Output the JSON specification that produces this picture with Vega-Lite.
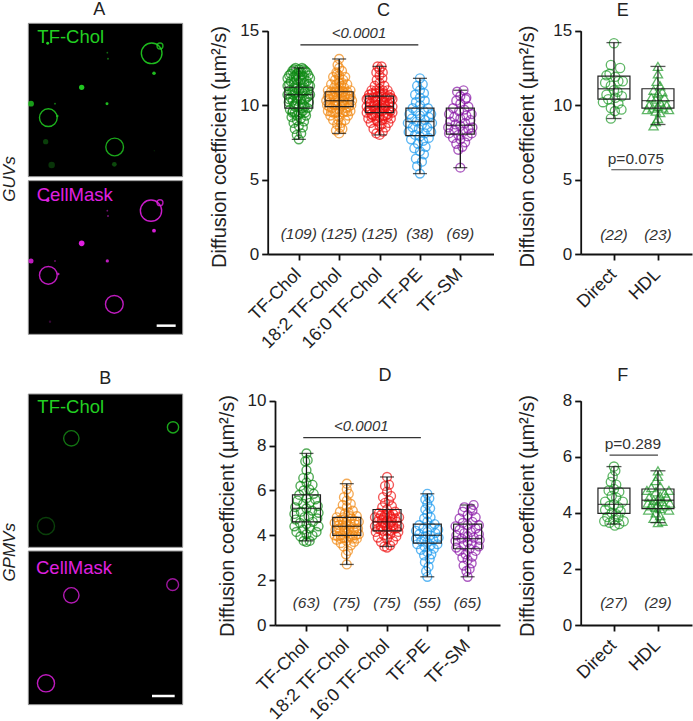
{"$schema":"https://vega.github.io/schema/vega-lite/v6.json","width":693,"height":721,"padding":0,"autosize":"none","background":"white",
"config":{"font":"Liberation Sans","view":{"stroke":null},"axis":{"grid":false,"domainColor":"#111","domainWidth":1.8,"tickColor":"#111","tickWidth":1.8,"tickSize":6,"labelFontSize":17,"labelColor":"#222","labelPadding":3,"labelOverlap":false,"labelFlush":false,"labelBound":false,"titleFontWeight":"normal","titleFontSize":20,"titleColor":"#222"},"axisX":{"labelAngle":-45,"labelAlign":"right","labelBaseline":"top","labelFontSize":18,"labelPadding":5,"labelOffset":-7}},
"datasets":{
"A":[{"part":"frame","x":85,"x2":548,"y":70,"y2":530},{"part":"frame","x":85,"x2":548,"y":542,"y2":1003},
{"part":"bar","x":470,"x2":527,"y":977},
{"part":"letter","x":298,"y":31,"label":"A"},{"part":"side","x":30,"y":537,"label":"GUVs"}],
"A_img":[{"ch":"TF-Chol","x":112,"y":112,"label":"TF-Chol"},{"ch":"CellMask","x":110,"y":586,"label":"CellMask"}],
"A_ring":[{"ch":"TF-Chol","x":455,"y":160,"d":70,"i":0.9},{"ch":"TF-Chol","x":480,"y":138,"d":20,"i":0.8},{"ch":"TF-Chol","x":145,"y":353,"d":60,"i":0.85},{"ch":"TF-Chol","x":344,"y":441,"d":60,"i":0.8},{"ch":"CellMask","x":453,"y":632,"d":72,"i":0.9},{"ch":"CellMask","x":480,"y":608,"d":20,"i":0.8},{"ch":"CellMask","x":145,"y":826,"d":60,"i":0.85},{"ch":"CellMask","x":343,"y":913,"d":60,"i":0.85}],
"A_dot":[{"ch":"TF-Chol","x":143,"y":130,"d":10,"i":1},{"ch":"TF-Chol","x":322,"y":158,"d":6,"i":0.5},{"ch":"TF-Chol","x":324,"y":176,"d":7,"i":0.5},{"ch":"TF-Chol","x":462,"y":220,"d":12,"i":0.9},{"ch":"TF-Chol","x":245,"y":262,"d":18,"i":0.95},{"ch":"TF-Chol","x":93,"y":311,"d":20,"i":0.75},{"ch":"TF-Chol","x":321,"y":311,"d":10,"i":0.9},{"ch":"TF-Chol","x":165,"y":311,"d":6,"i":0.6},{"ch":"TF-Chol","x":172,"y":348,"d":8,"i":0.8},{"ch":"TF-Chol","x":137,"y":425,"d":18,"i":0.3},{"ch":"TF-Chol","x":343,"y":493,"d":16,"i":0.35},{"ch":"TF-Chol","x":155,"y":495,"d":22,"i":0.25},{"ch":"TF-Chol","x":463,"y":452,"d":5,"i":0.15},{"ch":"CellMask","x":143,"y":601,"d":12,"i":1},{"ch":"CellMask","x":322,"y":632,"d":6,"i":0.5},{"ch":"CellMask","x":324,"y":648,"d":7,"i":0.5},{"ch":"CellMask","x":462,"y":692,"d":13,"i":0.95},{"ch":"CellMask","x":245,"y":730,"d":19,"i":1},{"ch":"CellMask","x":93,"y":783,"d":17,"i":0.85},{"ch":"CellMask","x":322,"y":783,"d":11,"i":0.85},{"ch":"CellMask","x":165,"y":783,"d":6,"i":0.5},{"ch":"CellMask","x":175,"y":822,"d":8,"i":0.8},{"ch":"CellMask","x":150,"y":965,"d":8,"i":0.25}],
"B":[{"part":"frame","x":85,"x2":548,"y":72,"y2":532},{"part":"frame","x":85,"x2":548,"y":543,"y2":1004},
{"part":"bar","x":456,"x2":524,"y":978},
{"part":"letter","x":316,"y":28,"label":"B"},{"part":"side","x":30,"y":547,"label":"GPMVs"}],
"B_img":[{"ch":"TF-Chol","x":112,"y":112,"label":"TF-Chol"},{"ch":"CellMask","x":108,"y":595,"label":"CellMask"}],
"B_ring":[{"ch":"TF-Chol","x":214,"y":205,"d":52,"i":0.55},{"ch":"TF-Chol","x":519,"y":172,"d":38,"i":0.8},{"ch":"TF-Chol","x":138,"y":468,"d":58,"i":0.3},{"ch":"CellMask","x":214,"y":676,"d":52,"i":0.8},{"ch":"CellMask","x":518,"y":644,"d":40,"i":0.7},{"ch":"CellMask","x":138,"y":940,"d":58,"i":0.85}],
"C":[{"g":"TF-Chol","x":1,"y":7.7},{"g":"TF-Chol","x":0.95,"y":8},{"g":"TF-Chol","x":1.06,"y":8.1},{"g":"TF-Chol","x":0.9,"y":8.4},{"g":"TF-Chol","x":1.1,"y":8.5},{"g":"TF-Chol","x":1,"y":8.6},{"g":"TF-Chol","x":0.87,"y":8.8},{"g":"TF-Chol","x":1.13,"y":8.9},{"g":"TF-Chol","x":0.95,"y":9},{"g":"TF-Chol","x":1.05,"y":9.1},{"g":"TF-Chol","x":0.82,"y":9.2},{"g":"TF-Chol","x":1.18,"y":9.3},{"g":"TF-Chol","x":1,"y":9.4},{"g":"TF-Chol","x":0.9,"y":9.5},{"g":"TF-Chol","x":1.1,"y":9.6},{"g":"TF-Chol","x":0.78,"y":9.7},{"g":"TF-Chol","x":1.22,"y":9.8},{"g":"TF-Chol","x":1,"y":9.9},{"g":"TF-Chol","x":0.88,"y":10},{"g":"TF-Chol","x":1.12,"y":10},{"g":"TF-Chol","x":0.75,"y":10.2},{"g":"TF-Chol","x":1.25,"y":10.2},{"g":"TF-Chol","x":0.95,"y":10.3},{"g":"TF-Chol","x":1.05,"y":10.4},{"g":"TF-Chol","x":0.8,"y":10.5},{"g":"TF-Chol","x":1.2,"y":10.5},{"g":"TF-Chol","x":1,"y":10.6},{"g":"TF-Chol","x":0.72,"y":10.7},{"g":"TF-Chol","x":1.28,"y":10.7},{"g":"TF-Chol","x":0.9,"y":10.8},{"g":"TF-Chol","x":1.1,"y":10.8},{"g":"TF-Chol","x":0.78,"y":11},{"g":"TF-Chol","x":1.22,"y":11},{"g":"TF-Chol","x":1,"y":11},{"g":"TF-Chol","x":0.88,"y":11.2},{"g":"TF-Chol","x":1.12,"y":11.2},{"g":"TF-Chol","x":0.72,"y":11.3},{"g":"TF-Chol","x":1.28,"y":11.3},{"g":"TF-Chol","x":0.95,"y":11.4},{"g":"TF-Chol","x":1.05,"y":11.5},{"g":"TF-Chol","x":0.8,"y":11.6},{"g":"TF-Chol","x":1.2,"y":11.6},{"g":"TF-Chol","x":1,"y":11.8},{"g":"TF-Chol","x":0.87,"y":11.9},{"g":"TF-Chol","x":1.13,"y":11.9},{"g":"TF-Chol","x":0.76,"y":12},{"g":"TF-Chol","x":1.24,"y":12},{"g":"TF-Chol","x":0.95,"y":12.1},{"g":"TF-Chol","x":1.05,"y":12.2},{"g":"TF-Chol","x":0.84,"y":12.3},{"g":"TF-Chol","x":1.16,"y":12.3},{"g":"TF-Chol","x":1,"y":12.4},{"g":"TF-Chol","x":0.92,"y":12.5},{"g":"TF-Chol","x":1.08,"y":12.5},
{"g":"TF-Chol","x":0.85,"y":9.6},{"g":"TF-Chol","x":1.15,"y":9.9},{"g":"TF-Chol","x":0.92,"y":10.1},{"g":"TF-Chol","x":1.08,"y":10.1},{"g":"TF-Chol","x":0.85,"y":10.3},{"g":"TF-Chol","x":1.15,"y":10.4},{"g":"TF-Chol","x":0.76,"y":10.4},{"g":"TF-Chol","x":1.24,"y":10.6},{"g":"TF-Chol","x":0.96,"y":10.5},{"g":"TF-Chol","x":0.86,"y":10.7},{"g":"TF-Chol","x":1.15,"y":10.9},{"g":"TF-Chol","x":0.84,"y":10.9},{"g":"TF-Chol","x":0.95,"y":11.1},{"g":"TF-Chol","x":1.05,"y":11.1},{"g":"TF-Chol","x":0.76,"y":11.4},{"g":"TF-Chol","x":1.24,"y":11.4},{"g":"TF-Chol","x":0.88,"y":11.5},{"g":"TF-Chol","x":1.14,"y":11.5},{"g":"TF-Chol","x":0.95,"y":11.7},{"g":"TF-Chol","x":1.05,"y":11.7},{"g":"TF-Chol","x":0.72,"y":11.8},{"g":"TF-Chol","x":1.28,"y":11.8},{"g":"TF-Chol","x":0.92,"y":12},{"g":"TF-Chol","x":1.08,"y":12},{"g":"TF-Chol","x":0.8,"y":12.1},{"g":"TF-Chol","x":1.2,"y":12.2},{"g":"TF-Chol","x":1,"y":12.2},{"g":"TF-Chol","x":0.88,"y":12.4},{"g":"TF-Chol","x":1.12,"y":12.4},{"g":"TF-Chol","x":0.84,"y":9.5},{"g":"TF-Chol","x":1.16,"y":9.5},{"g":"TF-Chol","x":0.9,"y":9.9},{"g":"TF-Chol","x":1.08,"y":9.8},{"g":"TF-Chol","x":0.95,"y":9.3},{"g":"TF-Chol","x":1.05,"y":9.5},
{"g":"18:2 TF-Chol","x":2,"y":8.1},{"g":"18:2 TF-Chol","x":1.92,"y":8.3},{"g":"18:2 TF-Chol","x":2.08,"y":8.4},{"g":"18:2 TF-Chol","x":1.95,"y":8.7},{"g":"18:2 TF-Chol","x":2.05,"y":8.8},{"g":"18:2 TF-Chol","x":1.85,"y":9},{"g":"18:2 TF-Chol","x":2.15,"y":9},{"g":"18:2 TF-Chol","x":2,"y":9.2},{"g":"18:2 TF-Chol","x":1.78,"y":9.3},{"g":"18:2 TF-Chol","x":2.22,"y":9.3},{"g":"18:2 TF-Chol","x":1.9,"y":9.5},{"g":"18:2 TF-Chol","x":2.1,"y":9.5},{"g":"18:2 TF-Chol","x":1.72,"y":9.6},{"g":"18:2 TF-Chol","x":2.28,"y":9.6},{"g":"18:2 TF-Chol","x":2,"y":9.7},{"g":"18:2 TF-Chol","x":1.82,"y":9.8},{"g":"18:2 TF-Chol","x":2.18,"y":9.8},{"g":"18:2 TF-Chol","x":1.7,"y":10},{"g":"18:2 TF-Chol","x":2.3,"y":10},{"g":"18:2 TF-Chol","x":1.93,"y":10},{"g":"18:2 TF-Chol","x":2.07,"y":10.1},{"g":"18:2 TF-Chol","x":1.78,"y":10.2},{"g":"18:2 TF-Chol","x":2.22,"y":10.2},{"g":"18:2 TF-Chol","x":1.68,"y":10.3},{"g":"18:2 TF-Chol","x":2.32,"y":10.3},{"g":"18:2 TF-Chol","x":2,"y":10.4},{"g":"18:2 TF-Chol","x":1.87,"y":10.5},{"g":"18:2 TF-Chol","x":2.13,"y":10.5},{"g":"18:2 TF-Chol","x":1.72,"y":10.6},{"g":"18:2 TF-Chol","x":2.28,"y":10.6},{"g":"18:2 TF-Chol","x":1.95,"y":10.7},{"g":"18:2 TF-Chol","x":2.05,"y":10.8},{"g":"18:2 TF-Chol","x":1.8,"y":10.9},{"g":"18:2 TF-Chol","x":2.2,"y":10.9},{"g":"18:2 TF-Chol","x":1.72,"y":11},{"g":"18:2 TF-Chol","x":2.28,"y":11},{"g":"18:2 TF-Chol","x":2,"y":11},{"g":"18:2 TF-Chol","x":1.88,"y":11.2},{"g":"18:2 TF-Chol","x":2.12,"y":11.2},{"g":"18:2 TF-Chol","x":1.8,"y":11.4},{"g":"18:2 TF-Chol","x":2.2,"y":11.4},{"g":"18:2 TF-Chol","x":2,"y":11.5},{"g":"18:2 TF-Chol","x":1.9,"y":11.7},{"g":"18:2 TF-Chol","x":2.1,"y":11.7},{"g":"18:2 TF-Chol","x":1.85,"y":11.9},{"g":"18:2 TF-Chol","x":2.15,"y":11.9},{"g":"18:2 TF-Chol","x":2,"y":12},{"g":"18:2 TF-Chol","x":1.93,"y":12.2},{"g":"18:2 TF-Chol","x":2.07,"y":12.3},{"g":"18:2 TF-Chol","x":2,"y":12.5},{"g":"18:2 TF-Chol","x":1.96,"y":12.7},{"g":"18:2 TF-Chol","x":2,"y":13.1},
{"g":"18:2 TF-Chol","x":1.85,"y":9.5},{"g":"18:2 TF-Chol","x":2.15,"y":9.6},{"g":"18:2 TF-Chol","x":1.95,"y":9.5},{"g":"18:2 TF-Chol","x":2.05,"y":9.9},{"g":"18:2 TF-Chol","x":1.88,"y":10},{"g":"18:2 TF-Chol","x":2.12,"y":10},{"g":"18:2 TF-Chol","x":1.97,"y":10.2},{"g":"18:2 TF-Chol","x":1.76,"y":10.4},{"g":"18:2 TF-Chol","x":2.25,"y":10.4},{"g":"18:2 TF-Chol","x":1.92,"y":10.3},{"g":"18:2 TF-Chol","x":2.1,"y":10.3},{"g":"18:2 TF-Chol","x":1.85,"y":10.7},{"g":"18:2 TF-Chol","x":2.15,"y":10.7},{"g":"18:2 TF-Chol","x":1.78,"y":10.7},{"g":"18:2 TF-Chol","x":2.22,"y":10.7},{"g":"18:2 TF-Chol","x":2,"y":10.9},{"g":"18:2 TF-Chol","x":1.9,"y":10.9},{"g":"18:2 TF-Chol","x":2.1,"y":10.9},{"g":"18:2 TF-Chol","x":1.75,"y":9.9},{"g":"18:2 TF-Chol","x":2.24,"y":9.9},{"g":"18:2 TF-Chol","x":1.8,"y":9.55},{"g":"18:2 TF-Chol","x":2.2,"y":9.55},{"g":"18:2 TF-Chol","x":1.95,"y":11.1},{"g":"18:2 TF-Chol","x":2.05,"y":11.3},{"g":"18:2 TF-Chol","x":1.93,"y":11.4},{"g":"18:2 TF-Chol","x":2.07,"y":11.5},{"g":"18:2 TF-Chol","x":2,"y":11.8},{"g":"18:2 TF-Chol","x":1.95,"y":12.1},{"g":"18:2 TF-Chol","x":1.98,"y":9},{"g":"18:2 TF-Chol","x":2.02,"y":8.5},
{"g":"16:0 TF-Chol","x":3,"y":8},{"g":"16:0 TF-Chol","x":2.92,"y":8.1},{"g":"16:0 TF-Chol","x":3.08,"y":8.2},{"g":"16:0 TF-Chol","x":2.85,"y":8.4},{"g":"16:0 TF-Chol","x":3.15,"y":8.5},{"g":"16:0 TF-Chol","x":3,"y":8.6},{"g":"16:0 TF-Chol","x":2.78,"y":8.8},{"g":"16:0 TF-Chol","x":3.22,"y":8.8},{"g":"16:0 TF-Chol","x":2.93,"y":9},{"g":"16:0 TF-Chol","x":3.07,"y":9},{"g":"16:0 TF-Chol","x":2.72,"y":9.1},{"g":"16:0 TF-Chol","x":3.28,"y":9.1},{"g":"16:0 TF-Chol","x":3,"y":9.2},{"g":"16:0 TF-Chol","x":2.84,"y":9.3},{"g":"16:0 TF-Chol","x":3.16,"y":9.3},{"g":"16:0 TF-Chol","x":2.68,"y":9.5},{"g":"16:0 TF-Chol","x":3.32,"y":9.5},{"g":"16:0 TF-Chol","x":2.93,"y":9.5},{"g":"16:0 TF-Chol","x":3.07,"y":9.6},{"g":"16:0 TF-Chol","x":2.78,"y":9.7},{"g":"16:0 TF-Chol","x":3.22,"y":9.7},{"g":"16:0 TF-Chol","x":2.68,"y":9.9},{"g":"16:0 TF-Chol","x":3.32,"y":9.9},{"g":"16:0 TF-Chol","x":3,"y":9.9},{"g":"16:0 TF-Chol","x":2.87,"y":10},{"g":"16:0 TF-Chol","x":3.13,"y":10},{"g":"16:0 TF-Chol","x":2.74,"y":10.2},{"g":"16:0 TF-Chol","x":3.26,"y":10.2},{"g":"16:0 TF-Chol","x":2.95,"y":10.3},{"g":"16:0 TF-Chol","x":3.05,"y":10.3},{"g":"16:0 TF-Chol","x":2.68,"y":10.4},{"g":"16:0 TF-Chol","x":3.32,"y":10.4},{"g":"16:0 TF-Chol","x":2.84,"y":10.5},{"g":"16:0 TF-Chol","x":3.16,"y":10.5},{"g":"16:0 TF-Chol","x":3,"y":10.6},{"g":"16:0 TF-Chol","x":2.74,"y":10.7},{"g":"16:0 TF-Chol","x":3.26,"y":10.7},{"g":"16:0 TF-Chol","x":2.9,"y":10.8},{"g":"16:0 TF-Chol","x":3.1,"y":10.8},{"g":"16:0 TF-Chol","x":2.8,"y":11},{"g":"16:0 TF-Chol","x":3.2,"y":11},{"g":"16:0 TF-Chol","x":3,"y":11.1},{"g":"16:0 TF-Chol","x":2.88,"y":11.3},{"g":"16:0 TF-Chol","x":3.12,"y":11.3},{"g":"16:0 TF-Chol","x":3,"y":11.5},{"g":"16:0 TF-Chol","x":2.93,"y":11.7},{"g":"16:0 TF-Chol","x":3.07,"y":11.8},{"g":"16:0 TF-Chol","x":3,"y":12},{"g":"16:0 TF-Chol","x":2.92,"y":12.2},{"g":"16:0 TF-Chol","x":3.08,"y":12.2},{"g":"16:0 TF-Chol","x":3,"y":12.4},{"g":"16:0 TF-Chol","x":2.95,"y":12.6},{"g":"16:0 TF-Chol","x":3.05,"y":12.6},
{"g":"16:0 TF-Chol","x":2.8,"y":9.4},{"g":"16:0 TF-Chol","x":3.2,"y":9.4},{"g":"16:0 TF-Chol","x":2.9,"y":9.7},{"g":"16:0 TF-Chol","x":3.1,"y":9.8},{"g":"16:0 TF-Chol","x":3,"y":9.6},{"g":"16:0 TF-Chol","x":2.73,"y":9.7},{"g":"16:0 TF-Chol","x":3.27,"y":9.6},{"g":"16:0 TF-Chol","x":2.85,"y":9.9},{"g":"16:0 TF-Chol","x":3.15,"y":9.9},{"g":"16:0 TF-Chol","x":2.95,"y":10},{"g":"16:0 TF-Chol","x":3.05,"y":10},{"g":"16:0 TF-Chol","x":2.78,"y":10.1},{"g":"16:0 TF-Chol","x":3.22,"y":10.1},{"g":"16:0 TF-Chol","x":2.9,"y":10.3},{"g":"16:0 TF-Chol","x":3.1,"y":10.2},{"g":"16:0 TF-Chol","x":2.72,"y":10.5},{"g":"16:0 TF-Chol","x":3.28,"y":10.5},{"g":"16:0 TF-Chol","x":2.95,"y":10.6},{"g":"16:0 TF-Chol","x":3.05,"y":10.7},{"g":"16:0 TF-Chol","x":2.82,"y":10.8},{"g":"16:0 TF-Chol","x":3.2,"y":10.6},{"g":"16:0 TF-Chol","x":3,"y":10.9},{"g":"16:0 TF-Chol","x":2.92,"y":11},{"g":"16:0 TF-Chol","x":3.08,"y":11},{"g":"16:0 TF-Chol","x":2.8,"y":9.2},{"g":"16:0 TF-Chol","x":3.2,"y":9.2},{"g":"16:0 TF-Chol","x":2.9,"y":9.3},{"g":"16:0 TF-Chol","x":3.1,"y":9.3},{"g":"16:0 TF-Chol","x":2.95,"y":8.9},{"g":"16:0 TF-Chol","x":3.05,"y":8.7},
{"g":"TF-PE","x":4,"y":5.4},{"g":"TF-PE","x":3.93,"y":5.9},{"g":"TF-PE","x":4.05,"y":6.2},{"g":"TF-PE","x":3.9,"y":6.4},{"g":"TF-PE","x":4.1,"y":6.7},{"g":"TF-PE","x":4,"y":6.9},{"g":"TF-PE","x":3.86,"y":7.1},{"g":"TF-PE","x":4.14,"y":7.2},{"g":"TF-PE","x":3.95,"y":7.4},{"g":"TF-PE","x":4.08,"y":7.6},{"g":"TF-PE","x":3.78,"y":7.7},{"g":"TF-PE","x":4.22,"y":7.8},{"g":"TF-PE","x":4,"y":7.9},{"g":"TF-PE","x":3.88,"y":8},{"g":"TF-PE","x":4.12,"y":8.1},{"g":"TF-PE","x":3.72,"y":8.2},{"g":"TF-PE","x":4.28,"y":8.2},{"g":"TF-PE","x":3.97,"y":8.4},{"g":"TF-PE","x":3.82,"y":8.5},{"g":"TF-PE","x":4.18,"y":8.5},{"g":"TF-PE","x":4.05,"y":8.7},{"g":"TF-PE","x":3.7,"y":8.8},{"g":"TF-PE","x":4.3,"y":8.8},{"g":"TF-PE","x":3.92,"y":8.9},{"g":"TF-PE","x":4.12,"y":9},{"g":"TF-PE","x":3.8,"y":9.1},{"g":"TF-PE","x":4.22,"y":9.2},{"g":"TF-PE","x":4,"y":9.3},{"g":"TF-PE","x":3.74,"y":9.4},{"g":"TF-PE","x":4.28,"y":9.4},{"g":"TF-PE","x":3.9,"y":9.6},{"g":"TF-PE","x":4.1,"y":9.6},{"g":"TF-PE","x":3.82,"y":9.8},{"g":"TF-PE","x":4.2,"y":9.8},{"g":"TF-PE","x":4,"y":10},{"g":"TF-PE","x":3.9,"y":10.2},{"g":"TF-PE","x":4.12,"y":10.3},{"g":"TF-PE","x":4,"y":10.5},{"g":"TF-PE","x":3.88,"y":10.7},{"g":"TF-PE","x":4.1,"y":10.8},{"g":"TF-PE","x":4,"y":11},{"g":"TF-PE","x":3.93,"y":11.3},{"g":"TF-PE","x":4.07,"y":11.4},{"g":"TF-PE","x":4,"y":11.8},
{"g":"TF-SM","x":5,"y":5.8},{"g":"TF-SM","x":4.95,"y":7},{"g":"TF-SM","x":5.05,"y":7.2},{"g":"TF-SM","x":4.9,"y":7.4},{"g":"TF-SM","x":5.12,"y":7.5},{"g":"TF-SM","x":5,"y":7.7},{"g":"TF-SM","x":4.82,"y":7.8},{"g":"TF-SM","x":5.18,"y":7.9},{"g":"TF-SM","x":4.95,"y":8},{"g":"TF-SM","x":4.72,"y":8.1},{"g":"TF-SM","x":5.28,"y":8.1},{"g":"TF-SM","x":5.07,"y":8.2},{"g":"TF-SM","x":4.85,"y":8.3},{"g":"TF-SM","x":5.2,"y":8.4},{"g":"TF-SM","x":4.7,"y":8.5},{"g":"TF-SM","x":5.3,"y":8.5},{"g":"TF-SM","x":5,"y":8.6},{"g":"TF-SM","x":4.88,"y":8.7},{"g":"TF-SM","x":5.12,"y":8.8},{"g":"TF-SM","x":4.75,"y":8.9},{"g":"TF-SM","x":5.25,"y":9},{"g":"TF-SM","x":5,"y":9.1},{"g":"TF-SM","x":4.85,"y":9.2},{"g":"TF-SM","x":5.15,"y":9.3},{"g":"TF-SM","x":4.72,"y":9.4},{"g":"TF-SM","x":5.28,"y":9.4},{"g":"TF-SM","x":4.97,"y":9.6},{"g":"TF-SM","x":5.1,"y":9.7},{"g":"TF-SM","x":4.82,"y":9.8},{"g":"TF-SM","x":5.2,"y":9.9},{"g":"TF-SM","x":5,"y":10.1},{"g":"TF-SM","x":4.9,"y":10.3},{"g":"TF-SM","x":5.13,"y":10.4},{"g":"TF-SM","x":5,"y":10.6},{"g":"TF-SM","x":4.92,"y":10.9},{"g":"TF-SM","x":5.08,"y":11},{"g":"TF-SM","x":5.15,"y":10.5}],
"C_s":[{"part":"whisker","x":1,"y":7.7,"y2":12.5},{"part":"whisker","x":2,"y":8.1,"y2":13.1},{"part":"whisker","x":3,"y":8,"y2":12.6},{"part":"whisker","x":4,"y":5.4,"y2":11.8},{"part":"whisker","x":5,"y":5.8,"y2":11},
{"part":"box","x":1,"y":9.8,"y2":11.2},{"part":"box","x":2,"y":9.9,"y2":10.9},{"part":"box","x":3,"y":9.5,"y2":10.6},{"part":"box","x":4,"y":7.95,"y2":9.8},{"part":"box","x":5,"y":8.05,"y2":9.8},
{"part":"median","x":1,"y":10.7},{"part":"median","x":2,"y":10.3},{"part":"median","x":3,"y":9.9},{"part":"median","x":4,"y":8.9},{"part":"median","x":5,"y":8.65},
{"part":"cap","x":1,"y":7.7},{"part":"cap","x":1,"y":12.5},{"part":"cap","x":2,"y":8.1},{"part":"cap","x":2,"y":13.1},{"part":"cap","x":3,"y":8},{"part":"cap","x":3,"y":12.6},{"part":"cap","x":4,"y":5.4},{"part":"cap","x":4,"y":11.8},{"part":"cap","x":5,"y":5.8},{"part":"cap","x":5,"y":11},
{"part":"n","x":1,"y":1.34,"label":"(109)"},{"part":"n","x":2,"y":1.34,"label":"(125)"},{"part":"n","x":3,"y":1.34,"label":"(125)"},{"part":"n","x":4,"y":1.34,"label":"(38)"},{"part":"n","x":5,"y":1.34,"label":"(69)"},
{"part":"link","x":1.04,"x2":3.96,"y":14.05},{"part":"pi","x":2.49,"y":14.83,"label":"<0.0001"},{"part":"letter","x":3.1,"y":16.3,"label":"C"}],
"D":[{"g":"TF-Chol","x":1,"y":3.7},{"g":"TF-Chol","x":0.93,"y":3.75},{"g":"TF-Chol","x":1.08,"y":3.75},{"g":"TF-Chol","x":0.85,"y":3.95},{"g":"TF-Chol","x":1.15,"y":4},{"g":"TF-Chol","x":1,"y":4.05},{"g":"TF-Chol","x":0.75,"y":4.15},{"g":"TF-Chol","x":1.25,"y":4.15},{"g":"TF-Chol","x":0.92,"y":4.25},{"g":"TF-Chol","x":1.08,"y":4.3},{"g":"TF-Chol","x":0.7,"y":4.4},{"g":"TF-Chol","x":1.3,"y":4.4},{"g":"TF-Chol","x":1,"y":4.5},{"g":"TF-Chol","x":0.84,"y":4.55},{"g":"TF-Chol","x":1.16,"y":4.6},{"g":"TF-Chol","x":0.73,"y":4.7},{"g":"TF-Chol","x":1.27,"y":4.75},{"g":"TF-Chol","x":0.95,"y":4.8},{"g":"TF-Chol","x":1.05,"y":4.85},{"g":"TF-Chol","x":0.7,"y":4.95},{"g":"TF-Chol","x":1.3,"y":5},{"g":"TF-Chol","x":0.86,"y":5.05},{"g":"TF-Chol","x":1.14,"y":5.1},{"g":"TF-Chol","x":1,"y":5.2},{"g":"TF-Chol","x":0.72,"y":5.25},{"g":"TF-Chol","x":1.28,"y":5.3},{"g":"TF-Chol","x":0.92,"y":5.4},{"g":"TF-Chol","x":1.08,"y":5.45},{"g":"TF-Chol","x":0.78,"y":5.55},{"g":"TF-Chol","x":1.22,"y":5.6},{"g":"TF-Chol","x":1,"y":5.65},{"g":"TF-Chol","x":0.82,"y":5.8},{"g":"TF-Chol","x":1.18,"y":5.85},{"g":"TF-Chol","x":0.93,"y":6},{"g":"TF-Chol","x":1.07,"y":6.05},{"g":"TF-Chol","x":0.85,"y":6.2},{"g":"TF-Chol","x":1.15,"y":6.25},{"g":"TF-Chol","x":1,"y":6.35},{"g":"TF-Chol","x":0.92,"y":6.55},{"g":"TF-Chol","x":1.06,"y":6.6},{"g":"TF-Chol","x":1,"y":6.9},{"g":"TF-Chol","x":0.97,"y":7.3},{"g":"TF-Chol","x":1.03,"y":7.35},{"g":"TF-Chol","x":1,"y":7.65},
{"g":"18:2 TF-Chol","x":2,"y":2.7},{"g":"18:2 TF-Chol","x":1.98,"y":3.15},{"g":"18:2 TF-Chol","x":2.03,"y":3.3},{"g":"18:2 TF-Chol","x":1.92,"y":3.5},{"g":"18:2 TF-Chol","x":2.1,"y":3.55},{"g":"18:2 TF-Chol","x":1.85,"y":3.65},{"g":"18:2 TF-Chol","x":2.18,"y":3.7},{"g":"18:2 TF-Chol","x":2,"y":3.75},{"g":"18:2 TF-Chol","x":1.75,"y":3.8},{"g":"18:2 TF-Chol","x":2.25,"y":3.85},{"g":"18:2 TF-Chol","x":1.92,"y":3.9},{"g":"18:2 TF-Chol","x":2.08,"y":3.95},{"g":"18:2 TF-Chol","x":1.7,"y":4},{"g":"18:2 TF-Chol","x":2.3,"y":4.05},{"g":"18:2 TF-Chol","x":2,"y":4.1},{"g":"18:2 TF-Chol","x":1.83,"y":4.15},{"g":"18:2 TF-Chol","x":2.17,"y":4.2},{"g":"18:2 TF-Chol","x":1.72,"y":4.25},{"g":"18:2 TF-Chol","x":2.28,"y":4.3},{"g":"18:2 TF-Chol","x":1.95,"y":4.35},{"g":"18:2 TF-Chol","x":2.07,"y":4.4},{"g":"18:2 TF-Chol","x":1.8,"y":4.45},{"g":"18:2 TF-Chol","x":2.2,"y":4.5},{"g":"18:2 TF-Chol","x":1.7,"y":4.55},{"g":"18:2 TF-Chol","x":2.3,"y":4.6},{"g":"18:2 TF-Chol","x":2,"y":4.65},{"g":"18:2 TF-Chol","x":1.88,"y":4.7},{"g":"18:2 TF-Chol","x":2.12,"y":4.75},{"g":"18:2 TF-Chol","x":1.75,"y":4.8},{"g":"18:2 TF-Chol","x":2.25,"y":4.85},{"g":"18:2 TF-Chol","x":1.95,"y":4.95},{"g":"18:2 TF-Chol","x":2.05,"y":5},{"g":"18:2 TF-Chol","x":1.83,"y":5.05},{"g":"18:2 TF-Chol","x":2.15,"y":5.1},{"g":"18:2 TF-Chol","x":2,"y":5.25},{"g":"18:2 TF-Chol","x":1.9,"y":5.35},{"g":"18:2 TF-Chol","x":2.1,"y":5.4},{"g":"18:2 TF-Chol","x":2,"y":5.55},{"g":"18:2 TF-Chol","x":1.93,"y":5.7},{"g":"18:2 TF-Chol","x":2.05,"y":5.85},{"g":"18:2 TF-Chol","x":2,"y":6.05},{"g":"18:2 TF-Chol","x":2,"y":6.3},
{"g":"18:2 TF-Chol","x":1.85,"y":4},{"g":"18:2 TF-Chol","x":2.15,"y":4},{"g":"18:2 TF-Chol","x":1.95,"y":4.2},{"g":"18:2 TF-Chol","x":2.05,"y":4.25},{"g":"18:2 TF-Chol","x":1.8,"y":4.3},{"g":"18:2 TF-Chol","x":2.2,"y":4.3},{"g":"18:2 TF-Chol","x":1.9,"y":4.45},{"g":"18:2 TF-Chol","x":2.1,"y":4.5},{"g":"18:2 TF-Chol","x":1.98,"y":4.55},{"g":"18:2 TF-Chol","x":1.8,"y":4.65},{"g":"18:2 TF-Chol","x":2.2,"y":4.65},{"g":"18:2 TF-Chol","x":1.92,"y":4.8},{"g":"18:2 TF-Chol","x":2.08,"y":4.85},{"g":"18:2 TF-Chol","x":1.85,"y":3.85},{"g":"18:2 TF-Chol","x":2.15,"y":3.85},{"g":"18:2 TF-Chol","x":1.78,"y":3.95},{"g":"18:2 TF-Chol","x":2.22,"y":4},
{"g":"16:0 TF-Chol","x":3,"y":3.45},{"g":"16:0 TF-Chol","x":2.93,"y":3.5},{"g":"16:0 TF-Chol","x":3.08,"y":3.55},{"g":"16:0 TF-Chol","x":2.85,"y":3.7},{"g":"16:0 TF-Chol","x":3.15,"y":3.75},{"g":"16:0 TF-Chol","x":3,"y":3.85},{"g":"16:0 TF-Chol","x":2.77,"y":3.9},{"g":"16:0 TF-Chol","x":3.23,"y":3.95},{"g":"16:0 TF-Chol","x":2.92,"y":4},{"g":"16:0 TF-Chol","x":3.08,"y":4.05},{"g":"16:0 TF-Chol","x":2.72,"y":4.15},{"g":"16:0 TF-Chol","x":3.28,"y":4.15},{"g":"16:0 TF-Chol","x":3,"y":4.2},{"g":"16:0 TF-Chol","x":2.84,"y":4.25},{"g":"16:0 TF-Chol","x":3.16,"y":4.3},{"g":"16:0 TF-Chol","x":2.7,"y":4.4},{"g":"16:0 TF-Chol","x":3.3,"y":4.4},{"g":"16:0 TF-Chol","x":2.95,"y":4.45},{"g":"16:0 TF-Chol","x":3.07,"y":4.5},{"g":"16:0 TF-Chol","x":2.76,"y":4.6},{"g":"16:0 TF-Chol","x":3.24,"y":4.6},{"g":"16:0 TF-Chol","x":3,"y":4.65},{"g":"16:0 TF-Chol","x":2.87,"y":4.7},{"g":"16:0 TF-Chol","x":3.13,"y":4.75},{"g":"16:0 TF-Chol","x":2.7,"y":4.8},{"g":"16:0 TF-Chol","x":3.3,"y":4.8},{"g":"16:0 TF-Chol","x":2.95,"y":4.9},{"g":"16:0 TF-Chol","x":3.05,"y":4.95},{"g":"16:0 TF-Chol","x":2.8,"y":5},{"g":"16:0 TF-Chol","x":3.2,"y":5.05},{"g":"16:0 TF-Chol","x":3,"y":5.15},{"g":"16:0 TF-Chol","x":2.88,"y":5.25},{"g":"16:0 TF-Chol","x":3.12,"y":5.3},{"g":"16:0 TF-Chol","x":2.95,"y":5.45},{"g":"16:0 TF-Chol","x":3.05,"y":5.55},{"g":"16:0 TF-Chol","x":2.9,"y":5.7},{"g":"16:0 TF-Chol","x":3.1,"y":5.75},{"g":"16:0 TF-Chol","x":3,"y":5.95},{"g":"16:0 TF-Chol","x":2.95,"y":6.2},{"g":"16:0 TF-Chol","x":3.05,"y":6.25},{"g":"16:0 TF-Chol","x":3,"y":6.6},
{"g":"16:0 TF-Chol","x":2.85,"y":4.4},{"g":"16:0 TF-Chol","x":3.15,"y":4.45},{"g":"16:0 TF-Chol","x":2.78,"y":4.3},{"g":"16:0 TF-Chol","x":3.22,"y":4.3},{"g":"16:0 TF-Chol","x":2.9,"y":4.55},{"g":"16:0 TF-Chol","x":3.1,"y":4.6},{"g":"16:0 TF-Chol","x":3,"y":4.35},{"g":"16:0 TF-Chol","x":2.8,"y":4.75},{"g":"16:0 TF-Chol","x":3.2,"y":4.75},{"g":"16:0 TF-Chol","x":2.92,"y":4.8},{"g":"16:0 TF-Chol","x":3.08,"y":4.85},{"g":"16:0 TF-Chol","x":3,"y":4.95},{"g":"16:0 TF-Chol","x":2.85,"y":4.9},{"g":"16:0 TF-Chol","x":3.15,"y":4.95},{"g":"16:0 TF-Chol","x":2.9,"y":4.2},{"g":"16:0 TF-Chol","x":3.1,"y":4.2},
{"g":"TF-PE","x":4,"y":2.15},{"g":"TF-PE","x":3.97,"y":2.4},{"g":"TF-PE","x":4.03,"y":2.6},{"g":"TF-PE","x":3.94,"y":2.8},{"g":"TF-PE","x":4.06,"y":2.95},{"g":"TF-PE","x":3.92,"y":3.1},{"g":"TF-PE","x":4.1,"y":3.15},{"g":"TF-PE","x":4,"y":3.25},{"g":"TF-PE","x":3.84,"y":3.35},{"g":"TF-PE","x":4.16,"y":3.4},{"g":"TF-PE","x":3.93,"y":3.5},{"g":"TF-PE","x":4.08,"y":3.55},{"g":"TF-PE","x":3.75,"y":3.6},{"g":"TF-PE","x":4.25,"y":3.6},{"g":"TF-PE","x":4,"y":3.7},{"g":"TF-PE","x":3.85,"y":3.75},{"g":"TF-PE","x":4.15,"y":3.8},{"g":"TF-PE","x":3.72,"y":3.85},{"g":"TF-PE","x":4.28,"y":3.9},{"g":"TF-PE","x":3.95,"y":3.95},{"g":"TF-PE","x":4.07,"y":4},{"g":"TF-PE","x":3.8,"y":4.05},{"g":"TF-PE","x":4.2,"y":4.1},{"g":"TF-PE","x":4,"y":4.15},{"g":"TF-PE","x":3.72,"y":4.2},{"g":"TF-PE","x":4.27,"y":4.25},{"g":"TF-PE","x":3.9,"y":4.3},{"g":"TF-PE","x":4.1,"y":4.35},{"g":"TF-PE","x":3.8,"y":4.45},{"g":"TF-PE","x":4.18,"y":4.5},{"g":"TF-PE","x":4,"y":4.6},{"g":"TF-PE","x":3.92,"y":4.75},{"g":"TF-PE","x":4.08,"y":4.8},{"g":"TF-PE","x":4,"y":4.95},{"g":"TF-PE","x":3.95,"y":5.15},{"g":"TF-PE","x":4.07,"y":5.2},{"g":"TF-PE","x":4,"y":5.4},{"g":"TF-PE","x":3.95,"y":5.6},{"g":"TF-PE","x":4.05,"y":5.65},{"g":"TF-PE","x":4,"y":5.85},
{"g":"TF-SM","x":5,"y":2.15},{"g":"TF-SM","x":4.97,"y":2.4},{"g":"TF-SM","x":5.05,"y":2.5},{"g":"TF-SM","x":4.9,"y":2.65},{"g":"TF-SM","x":5.1,"y":2.75},{"g":"TF-SM","x":5,"y":2.9},{"g":"TF-SM","x":4.87,"y":3},{"g":"TF-SM","x":5.12,"y":3.05},{"g":"TF-SM","x":4.95,"y":3.15},{"g":"TF-SM","x":4.8,"y":3.3},{"g":"TF-SM","x":5.2,"y":3.3},{"g":"TF-SM","x":5.05,"y":3.4},{"g":"TF-SM","x":4.72,"y":3.45},{"g":"TF-SM","x":5.28,"y":3.5},{"g":"TF-SM","x":4.9,"y":3.55},{"g":"TF-SM","x":5.1,"y":3.6},{"g":"TF-SM","x":5,"y":3.7},{"g":"TF-SM","x":4.7,"y":3.75},{"g":"TF-SM","x":5.3,"y":3.8},{"g":"TF-SM","x":4.85,"y":3.85},{"g":"TF-SM","x":5.15,"y":3.9},{"g":"TF-SM","x":5,"y":3.95},{"g":"TF-SM","x":4.72,"y":4},{"g":"TF-SM","x":5.28,"y":4.05},{"g":"TF-SM","x":4.92,"y":4.1},{"g":"TF-SM","x":5.08,"y":4.15},{"g":"TF-SM","x":4.8,"y":4.25},{"g":"TF-SM","x":5.2,"y":4.3},{"g":"TF-SM","x":4.7,"y":4.4},{"g":"TF-SM","x":5.28,"y":4.45},{"g":"TF-SM","x":5,"y":4.45},{"g":"TF-SM","x":4.88,"y":4.55},{"g":"TF-SM","x":5.12,"y":4.6},{"g":"TF-SM","x":4.8,"y":4.75},{"g":"TF-SM","x":5.2,"y":4.8},{"g":"TF-SM","x":5,"y":4.9},{"g":"TF-SM","x":4.88,"y":5.05},{"g":"TF-SM","x":5.12,"y":5.1},{"g":"TF-SM","x":4.92,"y":5.25},{"g":"TF-SM","x":5.08,"y":5.2},{"g":"TF-SM","x":5.15,"y":5.35}],
"D_s":[{"part":"whisker","x":1,"y":3.75,"y2":7.65},{"part":"whisker","x":2,"y":2.7,"y2":6.3},{"part":"whisker","x":3,"y":3.5,"y2":6.6},{"part":"whisker","x":4,"y":2.15,"y2":5.85},{"part":"whisker","x":5,"y":2.15,"y2":5.35},
{"part":"box","x":1,"y":4.6,"y2":5.8},{"part":"box","x":2,"y":4,"y2":4.8},{"part":"box","x":3,"y":4.2,"y2":5.15},{"part":"box","x":4,"y":3.65,"y2":4.5},{"part":"box","x":5,"y":3.4,"y2":4.5},
{"part":"median","x":1,"y":5.2},{"part":"median","x":2,"y":4.4},{"part":"median","x":3,"y":4.6},{"part":"median","x":4,"y":4},{"part":"median","x":5,"y":3.85},
{"part":"cap","x":1,"y":3.75},{"part":"cap","x":1,"y":7.65},{"part":"cap","x":2,"y":2.7},{"part":"cap","x":2,"y":6.3},{"part":"cap","x":3,"y":3.5},{"part":"cap","x":3,"y":6.6},{"part":"cap","x":4,"y":2.15},{"part":"cap","x":4,"y":5.85},{"part":"cap","x":5,"y":2.15},{"part":"cap","x":5,"y":5.35},
{"part":"n","x":1,"y":0.97,"label":"(63)"},{"part":"n","x":2,"y":0.97,"label":"(75)"},{"part":"n","x":3,"y":0.97,"label":"(75)"},{"part":"n","x":4,"y":0.97,"label":"(55)"},{"part":"n","x":5,"y":0.97,"label":"(65)"},
{"part":"link","x":0.92,"x2":3.84,"y":8.35},{"part":"pi","x":2.36,"y":8.89,"label":"<0.0001"},{"part":"letter","x":2.95,"y":11.1,"label":"D"}],
"E":[{"g":"Direct","x":1,"y":14.16},{"g":"Direct","x":0.93,"y":12.7},{"g":"Direct","x":1.14,"y":12.5},{"g":"Direct","x":0.83,"y":12},{"g":"Direct","x":0.9,"y":12.1},{"g":"Direct","x":1.03,"y":11.9},{"g":"Direct","x":0.8,"y":11.5},{"g":"Direct","x":1.1,"y":11.6},{"g":"Direct","x":1.2,"y":11.6},{"g":"Direct","x":0.93,"y":11.3},{"g":"Direct","x":1,"y":11},{"g":"Direct","x":0.83,"y":10.7},{"g":"Direct","x":1.18,"y":10.6},{"g":"Direct","x":0.87,"y":10.4},{"g":"Direct","x":1.03,"y":10.5},{"g":"Direct","x":0.75,"y":10.2},{"g":"Direct","x":1.1,"y":10.1},{"g":"Direct","x":0.93,"y":9.8},{"g":"Direct","x":1.17,"y":9.7},{"g":"Direct","x":1.02,"y":9.6},{"g":"Direct","x":0.93,"y":9.1},{"g":"Direct","x":1.08,"y":10.9},
{"g":"HDL","x":2,"y":12.6},{"g":"HDL","x":2,"y":12.1},{"g":"HDL","x":1.97,"y":11.6},{"g":"HDL","x":2.05,"y":11.3},{"g":"HDL","x":1.9,"y":11},{"g":"HDL","x":2.1,"y":10.9},{"g":"HDL","x":2,"y":10.8},{"g":"HDL","x":1.85,"y":10.5},{"g":"HDL","x":2.15,"y":10.5},{"g":"HDL","x":1.95,"y":10.4},{"g":"HDL","x":2.05,"y":10.2},{"g":"HDL","x":1.8,"y":10},{"g":"HDL","x":2.2,"y":10},{"g":"HDL","x":2,"y":9.9},{"g":"HDL","x":1.88,"y":9.8},{"g":"HDL","x":2.12,"y":9.8},{"g":"HDL","x":1.75,"y":9.7},{"g":"HDL","x":2.25,"y":9.7},{"g":"HDL","x":1.95,"y":9.6},{"g":"HDL","x":2.05,"y":9.5},{"g":"HDL","x":2,"y":9.1},{"g":"HDL","x":1.95,"y":8.9},{"g":"HDL","x":1.9,"y":8.6}],
"E_s":[{"part":"whisker","x":1,"y":9.1,"y2":14.2},{"part":"whisker","x":2,"y":8.7,"y2":12.6},{"part":"box","x":1,"y":10.4,"y2":11.95},{"part":"box","x":2,"y":9.8,"y2":11.1},{"part":"median","x":1,"y":11.1},{"part":"median","x":2,"y":10.3},{"part":"cap","x":1,"y":9.1},{"part":"cap","x":1,"y":14.2},{"part":"cap","x":2,"y":8.7},{"part":"cap","x":2,"y":12.6},
{"part":"n","x":1,"y":1.3,"label":"(22)"},{"part":"n","x":2,"y":1.3,"label":"(23)"},{"part":"link","x":0.94,"x2":2.07,"y":5.66},{"part":"p","x":1.5,"y":6.38,"label":"p=0.075"},{"part":"letter","x":1.2,"y":16.3,"label":"E"}],
"F":[{"g":"Direct","x":1,"y":5.65},{"g":"Direct","x":1.03,"y":5.5},{"g":"Direct","x":0.97,"y":5.3},{"g":"Direct","x":0.93,"y":5.1},{"g":"Direct","x":1.05,"y":5},{"g":"Direct","x":1,"y":4.85},{"g":"Direct","x":0.88,"y":4.8},{"g":"Direct","x":1.12,"y":4.75},{"g":"Direct","x":0.95,"y":4.6},{"g":"Direct","x":1.05,"y":4.55},{"g":"Direct","x":0.8,"y":4.4},{"g":"Direct","x":1.2,"y":4.4},{"g":"Direct","x":1,"y":4.3},{"g":"Direct","x":0.9,"y":4.25},{"g":"Direct","x":1.1,"y":4.2},{"g":"Direct","x":0.8,"y":4.1},{"g":"Direct","x":1.15,"y":4.05},{"g":"Direct","x":0.95,"y":4},{"g":"Direct","x":1.05,"y":3.95},{"g":"Direct","x":0.85,"y":3.85},{"g":"Direct","x":1.1,"y":3.85},{"g":"Direct","x":0.78,"y":3.7},{"g":"Direct","x":1,"y":3.75},{"g":"Direct","x":0.9,"y":3.65},{"g":"Direct","x":1.12,"y":3.6},{"g":"Direct","x":1.22,"y":3.7},{"g":"Direct","x":1.02,"y":3.55},
{"g":"HDL","x":2,"y":5.5},{"g":"HDL","x":2,"y":5.3},{"g":"HDL","x":1.95,"y":5.15},{"g":"HDL","x":1.85,"y":4.9},{"g":"HDL","x":2.05,"y":4.95},{"g":"HDL","x":1.75,"y":4.8},{"g":"HDL","x":2.25,"y":4.8},{"g":"HDL","x":1.95,"y":4.75},{"g":"HDL","x":2.15,"y":4.7},{"g":"HDL","x":2.05,"y":4.6},{"g":"HDL","x":1.8,"y":4.55},{"g":"HDL","x":2.2,"y":4.55},{"g":"HDL","x":2,"y":4.5},{"g":"HDL","x":1.9,"y":4.45},{"g":"HDL","x":2.1,"y":4.4},{"g":"HDL","x":1.77,"y":4.35},{"g":"HDL","x":2.27,"y":4.35},{"g":"HDL","x":2,"y":4.3},{"g":"HDL","x":1.85,"y":4.25},{"g":"HDL","x":2.15,"y":4.25},{"g":"HDL","x":1.95,"y":4.2},{"g":"HDL","x":2.05,"y":4.15},{"g":"HDL","x":1.78,"y":4.1},{"g":"HDL","x":2.25,"y":4.1},{"g":"HDL","x":1.95,"y":4},{"g":"HDL","x":2.05,"y":3.9},{"g":"HDL","x":1.9,"y":3.8},{"g":"HDL","x":2.1,"y":3.7},{"g":"HDL","x":2,"y":3.65}],
"F_s":[{"part":"whisker","x":1,"y":3.6,"y2":5.65},{"part":"whisker","x":2,"y":3.65,"y2":5.5},{"part":"box","x":1,"y":3.98,"y2":4.88},{"part":"box","x":2,"y":4.15,"y2":4.85},{"part":"median","x":1,"y":4.3},{"part":"median","x":2,"y":4.45},{"part":"cap","x":1,"y":3.6},{"part":"cap","x":1,"y":5.65},{"part":"cap","x":2,"y":3.65},{"part":"cap","x":2,"y":5.5},
{"part":"n","x":1,"y":0.77,"label":"(27)"},{"part":"n","x":2,"y":0.77,"label":"(29)"},{"part":"link","x":0.9,"x2":2,"y":6.06},{"part":"p","x":1.43,"y":6.46,"label":"p=0.289"},{"part":"letter","x":1.2,"y":8.88,"label":"F"}]
},
"layer":[
{"encoding":{"x":{"field":"x","type":"quantitative","axis":null,"scale":{"domain":[85,548],"range":[28.33,182.67],"nice":false,"zero":false}},"y":{"field":"y","type":"quantitative","axis":null,"scale":{"domain":[70,1003],"range":[23.33,334.33],"nice":false,"zero":false}}},
"layer":[
{"data":{"name":"A"},"transform":[{"filter":"datum.part=='frame'"}],"mark":{"type":"rect","fill":"#000","stroke":"#999","strokeWidth":1},"encoding":{"x2":{"field":"x2"},"y2":{"field":"y2"}}},
{"data":{"name":"A_dot"},"mark":{"type":"point","filled":true,"strokeWidth":0},"encoding":{"size":{"field":"d","type":"quantitative","legend":null,"scale":{"type":"pow","exponent":2,"domain":[0,100],"range":[0,872]}},"color":{"field":"ch","type":"nominal","legend":null,"scale":{"domain":["TF-Chol","CellMask"],"range":["#22d022","#e020e0"]}},"opacity":{"field":"i","type":"quantitative","legend":null,"scale":{"domain":[0,1],"range":[0,1]}}}},
{"data":{"name":"A_ring"},"mark":{"type":"point","filled":false,"strokeWidth":1.4},"encoding":{"size":{"field":"d","type":"quantitative","legend":null,"scale":{"type":"pow","exponent":2,"domain":[0,100],"range":[0,872]}},"color":{"field":"ch","type":"nominal","legend":null,"scale":{"domain":["TF-Chol","CellMask"],"range":["#22d022","#e020e0"]}},"opacity":{"field":"i","type":"quantitative","legend":null,"scale":{"domain":[0,1],"range":[0,1]}}}},
{"data":{"name":"A_img"},"mark":{"type":"text","align":"left","baseline":"middle","fontSize":18.5},"encoding":{"text":{"field":"label"},"color":{"field":"ch","type":"nominal","legend":null,"scale":{"domain":["TF-Chol","CellMask"],"range":["#22d022","#e020e0"]}}}},
{"data":{"name":"A"},"transform":[{"filter":"datum.part=='bar'"}],"mark":{"type":"rule","color":"#fff","strokeWidth":2.5},"encoding":{"x2":{"field":"x2"}}},
{"data":{"name":"A"},"transform":[{"filter":"datum.part=='letter'"}],"mark":{"type":"text","fontSize":18,"color":"#222"},"encoding":{"text":{"field":"label"}}},
{"data":{"name":"A"},"transform":[{"filter":"datum.part=='side'"}],"mark":{"type":"text","fontSize":17,"fontStyle":"italic","angle":270,"color":"#222"},"encoding":{"text":{"field":"label"}}}
]},
{"encoding":{"x":{"field":"x","type":"quantitative","axis":null,"scale":{"domain":[85,548],"range":[28.33,182.67],"nice":false,"zero":false}},"y":{"field":"y","type":"quantitative","axis":null,"scale":{"domain":[72,1004],"range":[394,704.67],"nice":false,"zero":false}}},
"layer":[
{"data":{"name":"B"},"transform":[{"filter":"datum.part=='frame'"}],"mark":{"type":"rect","fill":"#000","stroke":"#999","strokeWidth":1},"encoding":{"x2":{"field":"x2"},"y2":{"field":"y2"}}},
{"data":{"name":"B_ring"},"mark":{"type":"point","filled":false,"strokeWidth":1.4},"encoding":{"size":{"field":"d","type":"quantitative","legend":null,"scale":{"type":"pow","exponent":2,"domain":[0,100],"range":[0,872]}},"color":{"field":"ch","type":"nominal","legend":null,"scale":{"domain":["TF-Chol","CellMask"],"range":["#22d022","#e020e0"]}},"opacity":{"field":"i","type":"quantitative","legend":null,"scale":{"domain":[0,1],"range":[0,1]}}}},
{"data":{"name":"B_img"},"mark":{"type":"text","align":"left","baseline":"middle","fontSize":18.5},"encoding":{"text":{"field":"label"},"color":{"field":"ch","type":"nominal","legend":null,"scale":{"domain":["TF-Chol","CellMask"],"range":["#22d022","#e020e0"]}}}},
{"data":{"name":"B"},"transform":[{"filter":"datum.part=='bar'"}],"mark":{"type":"rule","color":"#fff","strokeWidth":2.5},"encoding":{"x2":{"field":"x2"}}},
{"data":{"name":"B"},"transform":[{"filter":"datum.part=='letter'"}],"mark":{"type":"text","fontSize":18,"color":"#222"},"encoding":{"text":{"field":"label"}}},
{"data":{"name":"B"},"transform":[{"filter":"datum.part=='side'"}],"mark":{"type":"text","fontSize":17,"fontStyle":"italic","angle":270,"color":"#222"},"encoding":{"text":{"field":"label"}}}
]},
{"encoding":{"x":{"field":"x","type":"quantitative","title":null,"scale":{"domain":[0.354,5.698],"range":[267.7,493.5],"nice":false,"zero":false},"axis":{"orient":"bottom","values":[1,2,3,4,5],"offset":-467,"labelExpr":"['TF-Chol','18:2 TF-Chol','16:0 TF-Chol','TF-PE','TF-SM'][datum.value-1]"}},"y":{"field":"y","type":"quantitative","title":"Diffusion coefficient (µm²/s)","scale":{"domain":[0,15],"range":[254,30.7],"nice":false,"zero":false},"axis":{"orient":"left","values":[0,5,10,15],"offset":-267.7,"titleX":-38,"titleY":146.5}}},
"layer":[
{"data":{"name":"C"},"mark":{"type":"point","filled":false,"size":78,"strokeWidth":1.4},"encoding":{"color":{"field":"g","type":"nominal","legend":null,"scale":{"domain":["TF-Chol","18:2 TF-Chol","16:0 TF-Chol","TF-PE","TF-SM"],"range":["#0e8a14","#f28a14","#f01414","#1c9bf0","#8a18a8"]}}}},
{"data":{"name":"C_s"},"transform":[{"filter":"datum.part=='whisker'"}],"mark":{"type":"rule","color":"#111","strokeWidth":1.3},"encoding":{"y2":{"field":"y2"}}},
{"data":{"name":"C_s"},"transform":[{"filter":"datum.part=='box'"}],"mark":{"type":"bar","orient":"vertical","size":28,"fillOpacity":0,"stroke":"#222","strokeWidth":1.2},"encoding":{"y2":{"field":"y2"}}},
{"data":{"name":"C_s"},"transform":[{"filter":"datum.part=='median'"}],"mark":{"type":"tick","orient":"horizontal","size":28,"thickness":1.4,"color":"#111"}},
{"data":{"name":"C_s"},"transform":[{"filter":"datum.part=='cap'"}],"mark":{"type":"tick","orient":"horizontal","size":14,"thickness":1.3,"color":"#111"}},
{"data":{"name":"C_s"},"transform":[{"filter":"datum.part=='n'"}],"mark":{"type":"text","fontSize":15.5,"fontStyle":"italic","color":"#333"},"encoding":{"text":{"field":"label"}}},
{"data":{"name":"C_s"},"transform":[{"filter":"datum.part=='link'"}],"mark":{"type":"rule","color":"#222","strokeWidth":1.2},"encoding":{"x2":{"field":"x2"}}},
{"data":{"name":"C_s"},"transform":[{"filter":"datum.part=='pi'"}],"mark":{"type":"text","fontSize":15,"fontStyle":"italic","color":"#333"},"encoding":{"text":{"field":"label"}}},
{"data":{"name":"C_s"},"transform":[{"filter":"datum.part=='letter'"}],"mark":{"type":"text","fontSize":18,"color":"#222"},"encoding":{"text":{"field":"label"}}}
]},
{"encoding":{"x":{"field":"x","type":"quantitative","title":null,"scale":{"domain":[0.343,5.68],"range":[275,500],"nice":false,"zero":false},"axis":{"orient":"bottom","values":[1,2,3,4,5],"offset":-96,"labelExpr":"['TF-Chol','18:2 TF-Chol','16:0 TF-Chol','TF-PE','TF-SM'][datum.value-1]"}},"y":{"field":"y","type":"quantitative","title":"Diffusion coefficient (µm²/s)","scale":{"domain":[0,10],"range":[625,400.7],"nice":false,"zero":false},"axis":{"orient":"left","values":[0,2,4,6,8,10],"offset":-275,"titleX":-38,"titleY":515.5}}},
"layer":[
{"data":{"name":"D"},"mark":{"type":"point","filled":false,"size":78,"strokeWidth":1.4},"encoding":{"color":{"field":"g","type":"nominal","legend":null,"scale":{"domain":["TF-Chol","18:2 TF-Chol","16:0 TF-Chol","TF-PE","TF-SM"],"range":["#0e8a14","#f28a14","#f01414","#1c9bf0","#8a18a8"]}}}},
{"data":{"name":"D_s"},"transform":[{"filter":"datum.part=='whisker'"}],"mark":{"type":"rule","color":"#111","strokeWidth":1.3},"encoding":{"y2":{"field":"y2"}}},
{"data":{"name":"D_s"},"transform":[{"filter":"datum.part=='box'"}],"mark":{"type":"bar","orient":"vertical","size":28,"fillOpacity":0,"stroke":"#222","strokeWidth":1.2},"encoding":{"y2":{"field":"y2"}}},
{"data":{"name":"D_s"},"transform":[{"filter":"datum.part=='median'"}],"mark":{"type":"tick","orient":"horizontal","size":28,"thickness":1.4,"color":"#111"}},
{"data":{"name":"D_s"},"transform":[{"filter":"datum.part=='cap'"}],"mark":{"type":"tick","orient":"horizontal","size":14,"thickness":1.3,"color":"#111"}},
{"data":{"name":"D_s"},"transform":[{"filter":"datum.part=='n'"}],"mark":{"type":"text","fontSize":15.5,"fontStyle":"italic","color":"#333"},"encoding":{"text":{"field":"label"}}},
{"data":{"name":"D_s"},"transform":[{"filter":"datum.part=='link'"}],"mark":{"type":"rule","color":"#333","strokeWidth":1.2},"encoding":{"x2":{"field":"x2"}}},
{"data":{"name":"D_s"},"transform":[{"filter":"datum.part=='pi'"}],"mark":{"type":"text","fontSize":15,"fontStyle":"italic","color":"#333"},"encoding":{"text":{"field":"label"}}},
{"data":{"name":"D_s"},"transform":[{"filter":"datum.part=='letter'"}],"mark":{"type":"text","fontSize":18,"color":"#222"},"encoding":{"text":{"field":"label"}}}
]},
{"encoding":{"x":{"field":"x","type":"quantitative","title":null,"scale":{"domain":[0.358,2.66],"range":[580.7,692],"nice":false,"zero":false},"axis":{"orient":"bottom","values":[1,2],"offset":-467,"labelExpr":"['Direct','HDL'][datum.value-1]"}},"y":{"field":"y","type":"quantitative","title":"Diffusion coefficient (µm²/s)","scale":{"domain":[0,15],"range":[254,30.7],"nice":false,"zero":false},"axis":{"orient":"left","values":[0,5,10,15],"offset":-580.7,"titleX":-43,"titleY":146}}},
"layer":[
{"data":{"name":"E"},"mark":{"type":"point","filled":false,"size":85,"strokeWidth":1.3,"color":"#1e9a28"},"encoding":{"shape":{"field":"g","type":"nominal","legend":null,"scale":{"domain":["Direct","HDL"],"range":["circle","triangle-up"]}}}},
{"data":{"name":"E_s"},"transform":[{"filter":"datum.part=='whisker'"}],"mark":{"type":"rule","color":"#111","strokeWidth":1.2},"encoding":{"y2":{"field":"y2"}}},
{"data":{"name":"E_s"},"transform":[{"filter":"datum.part=='box'"}],"mark":{"type":"bar","orient":"vertical","size":32,"fillOpacity":0,"stroke":"#222","strokeWidth":1.2},"encoding":{"y2":{"field":"y2"}}},
{"data":{"name":"E_s"},"transform":[{"filter":"datum.part=='median'"}],"mark":{"type":"tick","orient":"horizontal","size":32,"thickness":1.3,"color":"#111"}},
{"data":{"name":"E_s"},"transform":[{"filter":"datum.part=='cap'"}],"mark":{"type":"tick","orient":"horizontal","size":15,"thickness":1.3,"color":"#111"}},
{"data":{"name":"E_s"},"transform":[{"filter":"datum.part=='n'"}],"mark":{"type":"text","fontSize":15.5,"fontStyle":"italic","color":"#333"},"encoding":{"text":{"field":"label"}}},
{"data":{"name":"E_s"},"transform":[{"filter":"datum.part=='link'"}],"mark":{"type":"rule","color":"#444","strokeWidth":1.1},"encoding":{"x2":{"field":"x2"}}},
{"data":{"name":"E_s"},"transform":[{"filter":"datum.part=='p'"}],"mark":{"type":"text","fontSize":15.5,"color":"#333"},"encoding":{"text":{"field":"label"}}},
{"data":{"name":"E_s"},"transform":[{"filter":"datum.part=='letter'"}],"mark":{"type":"text","fontSize":18,"color":"#222"},"encoding":{"text":{"field":"label"}}}
]},
{"encoding":{"x":{"field":"x","type":"quantitative","title":null,"scale":{"domain":[0.358,2.66],"range":[580.7,692],"nice":false,"zero":false},"axis":{"orient":"bottom","values":[1,2],"offset":-96,"labelExpr":"['Direct','HDL'][datum.value-1]"}},"y":{"field":"y","type":"quantitative","title":"Diffusion coefficient (µm²/s)","scale":{"domain":[0,8],"range":[625,400.7],"nice":false,"zero":false},"axis":{"orient":"left","values":[0,2,4,6,8],"offset":-580.7,"titleX":-43,"titleY":515.5}}},
"layer":[
{"data":{"name":"F"},"mark":{"type":"point","filled":false,"size":85,"strokeWidth":1.3,"color":"#1e9a28"},"encoding":{"shape":{"field":"g","type":"nominal","legend":null,"scale":{"domain":["Direct","HDL"],"range":["circle","triangle-up"]}}}},
{"data":{"name":"F_s"},"transform":[{"filter":"datum.part=='whisker'"}],"mark":{"type":"rule","color":"#111","strokeWidth":1.2},"encoding":{"y2":{"field":"y2"}}},
{"data":{"name":"F_s"},"transform":[{"filter":"datum.part=='box'"}],"mark":{"type":"bar","orient":"vertical","size":32,"fillOpacity":0,"stroke":"#222","strokeWidth":1.2},"encoding":{"y2":{"field":"y2"}}},
{"data":{"name":"F_s"},"transform":[{"filter":"datum.part=='median'"}],"mark":{"type":"tick","orient":"horizontal","size":32,"thickness":1.3,"color":"#111"}},
{"data":{"name":"F_s"},"transform":[{"filter":"datum.part=='cap'"}],"mark":{"type":"tick","orient":"horizontal","size":15,"thickness":1.3,"color":"#111"}},
{"data":{"name":"F_s"},"transform":[{"filter":"datum.part=='n'"}],"mark":{"type":"text","fontSize":15.5,"fontStyle":"italic","color":"#333"},"encoding":{"text":{"field":"label"}}},
{"data":{"name":"F_s"},"transform":[{"filter":"datum.part=='link'"}],"mark":{"type":"rule","color":"#444","strokeWidth":1.1},"encoding":{"x2":{"field":"x2"}}},
{"data":{"name":"F_s"},"transform":[{"filter":"datum.part=='p'"}],"mark":{"type":"text","fontSize":15.5,"color":"#333"},"encoding":{"text":{"field":"label"}}},
{"data":{"name":"F_s"},"transform":[{"filter":"datum.part=='letter'"}],"mark":{"type":"text","fontSize":18,"color":"#222"},"encoding":{"text":{"field":"label"}}}
]}
],
"resolve":{"scale":{"x":"independent","y":"independent","color":"independent","size":"independent","opacity":"independent","shape":"independent"},"axis":{"x":"independent","y":"independent"},"legend":{"color":"independent","size":"independent","opacity":"independent","shape":"independent"}}
}
